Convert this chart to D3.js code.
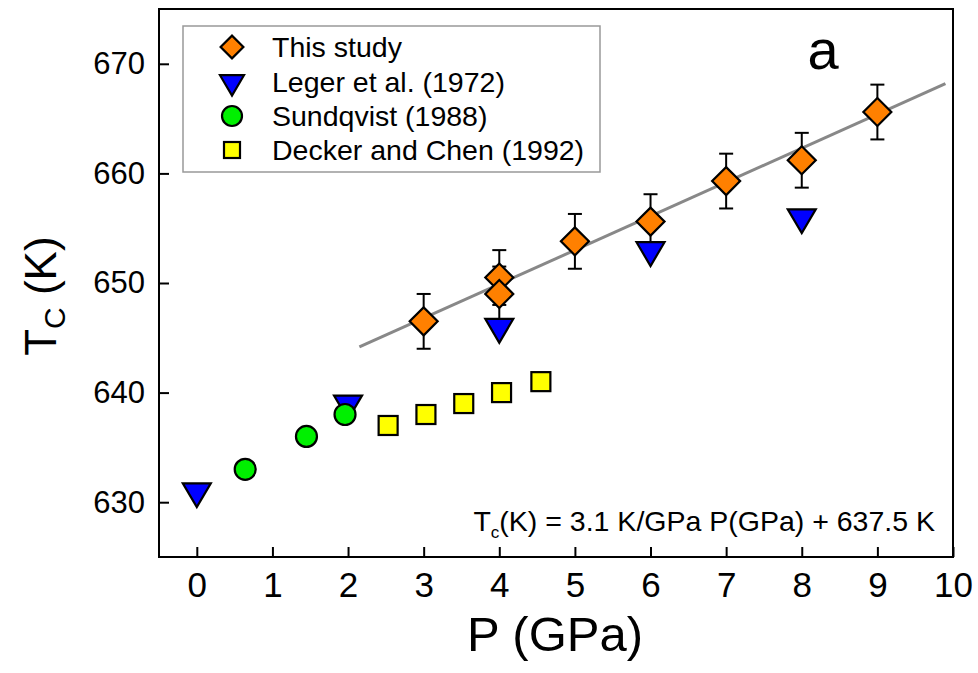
<!DOCTYPE html>
<html>
<head>
<meta charset="utf-8">
<script src="https://cdn.jsdelivr.net/npm/d3@7"></script>
<style>
  body { margin: 0; background: #fff; }
  svg { display: block; }
</style>
</head>
<body>
<script>
// ---- Data ----
const thisStudyP = [3, 4, 4, 5, 6, 7, 8, 9];
const thisStudyT = [646.5, 650.5, 649.0, 653.8, 655.6, 659.3, 661.2, 665.6];
const thisStudyErr = [2.5, 2.5, 2.5, 2.5, 2.5, 2.5, 2.5, 2.5];
const legerP = [0, 2, 4, 6, 8];
const legerT = [631, 639, 646, 653, 656];
const sundqvistP = [0.64, 1.45, 1.96];
const sundqvistT = [633, 636, 638];
const deckerP = [2.53, 3.03, 3.53, 4.03, 4.55];
const deckerT = [637, 638, 639, 640, 641];
const fitSlope = 3.1, fitIntercept = 637.5;
const fitRange = [2.15, 9.9];
const xTicks = [0, 1, 2, 3, 4, 5, 6, 7, 8, 9, 10];
const yTicks = [630, 640, 650, 660, 670];
const legendLabels = ["This study", "Leger et al. (1972)", "Sundqvist (1988)", "Decker and Chen (1992)"];

const W = 978, H = 673;
const margin = {left: 159, right: 25, top: 9, bottom: 116};
const svg = d3.select("body").append("svg").attr("width", W).attr("height", H);

const x = d3.scaleLinear().domain([-0.5, 10]).range([margin.left, W - margin.right]);
const y = d3.scaleLinear().domain([625, 675]).range([H - margin.bottom, margin.top]);

const sans = "'Liberation Sans', Arial, sans-serif";

// Fit line
svg.append("line")
  .attr("x1", x(fitRange[0])).attr("y1", y(fitSlope * fitRange[0] + fitIntercept))
  .attr("x2", x(fitRange[1])).attr("y2", y(fitSlope * fitRange[1] + fitIntercept))
  .attr("stroke", "#888").attr("stroke-width", 3);

// Axes
const yAxis = d3.axisLeft(y).tickValues(yTicks).tickSizeInner(-10).tickSizeOuter(0).tickPadding(14);
const gy = svg.append("g").attr("transform", `translate(${margin.left},0)`).call(yAxis);
gy.select(".domain").remove();
gy.selectAll(".tick line").attr("stroke", "#000").attr("stroke-width", 2);
gy.selectAll(".tick text").attr("font-family", sans).attr("font-size", 31).attr("fill", "#000");

const xAxis = d3.axisBottom(x).tickValues(xTicks).tickSizeInner(-10).tickSizeOuter(0).tickPadding(15);
const gx = svg.append("g").attr("transform", `translate(0,${H - margin.bottom})`).call(xAxis);
gx.select(".domain").remove();
gx.selectAll(".tick line").attr("stroke", "#000").attr("stroke-width", 2);
gx.selectAll(".tick text").attr("font-family", sans).attr("font-size", 35).attr("fill", "#000");

// Frame
svg.append("rect")
  .attr("x", margin.left).attr("y", margin.top)
  .attr("width", W - margin.left - margin.right).attr("height", H - margin.top - margin.bottom)
  .attr("fill", "none").attr("stroke", "#000").attr("stroke-width", 2);

// Axis titles
svg.append("text").attr("x", 555).attr("y", 651)
  .attr("text-anchor", "middle").attr("font-family", sans).attr("font-size", 49)
  .text("P (GPa)");
const yt = svg.append("text").attr("transform", `translate(56,${y(648.8)}) rotate(-90)`)
  .attr("text-anchor", "middle").attr("font-family", sans).attr("font-size", 44);
yt.append("tspan").text("T");
yt.append("tspan").attr("font-size", 30).attr("dy", 9).text("C");
yt.append("tspan").attr("dy", -9).text(" (K)");

// Symbols
const diamond = d3.symbol().type(d3.symbolSquare).size(392);
const tri = s => {
  const w = s, h = s * 0.85;
  return `M${-w/2},${-h/3}L${w/2},${-h/3}L0,${2*h/3}Z`;
};

// Error bars
const eb = svg.append("g").attr("stroke", "#000").attr("stroke-width", 2);
thisStudyP.forEach((p, i) => {
  const t = thisStudyT[i], e = thisStudyErr[i];
  eb.append("line").attr("x1", x(p)).attr("x2", x(p)).attr("y1", y(t - e)).attr("y2", y(t + e));
  eb.append("line").attr("x1", x(p) - 7).attr("x2", x(p) + 7).attr("y1", y(t - e)).attr("y2", y(t - e));
  eb.append("line").attr("x1", x(p) - 7).attr("x2", x(p) + 7).attr("y1", y(t + e)).attr("y2", y(t + e));
});

// Leger triangles
svg.append("g").selectAll("path").data(legerP).join("path")
  .attr("d", tri(28))
  .attr("transform", (d, i) => `translate(${x(d)},${y(legerT[i])})`)
  .attr("fill", "#0000ff").attr("stroke", "#000").attr("stroke-width", 2.2);

// Sundqvist circles
svg.append("g").selectAll("circle").data(sundqvistP).join("circle")
  .attr("cx", d => x(d)).attr("cy", (d, i) => y(sundqvistT[i])).attr("r", 10.5)
  .attr("fill", "#00f000").attr("stroke", "#000").attr("stroke-width", 2.2);

// Decker squares
svg.append("g").selectAll("rect").data(deckerP).join("rect")
  .attr("x", d => x(d) - 9.5).attr("y", (d, i) => y(deckerT[i]) - 9.5)
  .attr("width", 19).attr("height", 19)
  .attr("fill", "#ffff00").attr("stroke", "#000").attr("stroke-width", 2.2);

// This study diamonds
svg.append("g").selectAll("path").data(thisStudyP).join("path")
  .attr("d", diamond)
  .attr("transform", (d, i) => `translate(${x(d)},${y(thisStudyT[i])}) rotate(45)`)
  .attr("fill", "#ff8000").attr("stroke", "#000").attr("stroke-width", 2.2);

// Legend
const lg = svg.append("g");
lg.append("rect").attr("x", 183).attr("y", 26).attr("width", 417).attr("height", 146)
  .attr("fill", "#fff").attr("stroke", "#999").attr("stroke-width", 1.5);
const rowY = [47, 82, 116, 150];
const legendShapes = [
  g => g.append("path").attr("d", d3.symbol().type(d3.symbolSquare).size(260)).attr("transform", "rotate(45)")
        .attr("fill", "#ff8000").attr("stroke", "#000").attr("stroke-width", 2.2),
  g => g.append("path").attr("d", tri(24)).attr("fill", "#0000ff").attr("stroke", "#000").attr("stroke-width", 2.2),
  g => g.append("circle").attr("r", 10).attr("fill", "#00f000").attr("stroke", "#000").attr("stroke-width", 2.2),
  g => g.append("rect").attr("x", -8).attr("y", -8).attr("width", 16).attr("height", 16)
        .attr("fill", "#ffff00").attr("stroke", "#000").attr("stroke-width", 2.2)
];
legendLabels.forEach((lab, i) => {
  const g = lg.append("g").attr("transform", `translate(232,${rowY[i]})`);
  legendShapes[i](g);
  lg.append("text").attr("x", 272).attr("y", rowY[i] + 10)
    .attr("font-family", sans).attr("font-size", 28.5).text(lab);
});

// Panel label
svg.append("text").attr("x", 823).attr("y", 69).attr("text-anchor", "middle")
  .attr("font-family", sans).attr("font-size", 56).text("a");

// Equation
const eq = svg.append("text").attr("x", 935).attr("y", 531).attr("text-anchor", "end")
  .attr("font-family", sans).attr("font-size", 28.5);
eq.append("tspan").text("T");
eq.append("tspan").attr("font-size", 17).attr("dy", 7).text("c");
eq.append("tspan").attr("dy", -7).text("(K) = 3.1 K/GPa P(GPa) + 637.5 K");
</script>
</body>
</html>
